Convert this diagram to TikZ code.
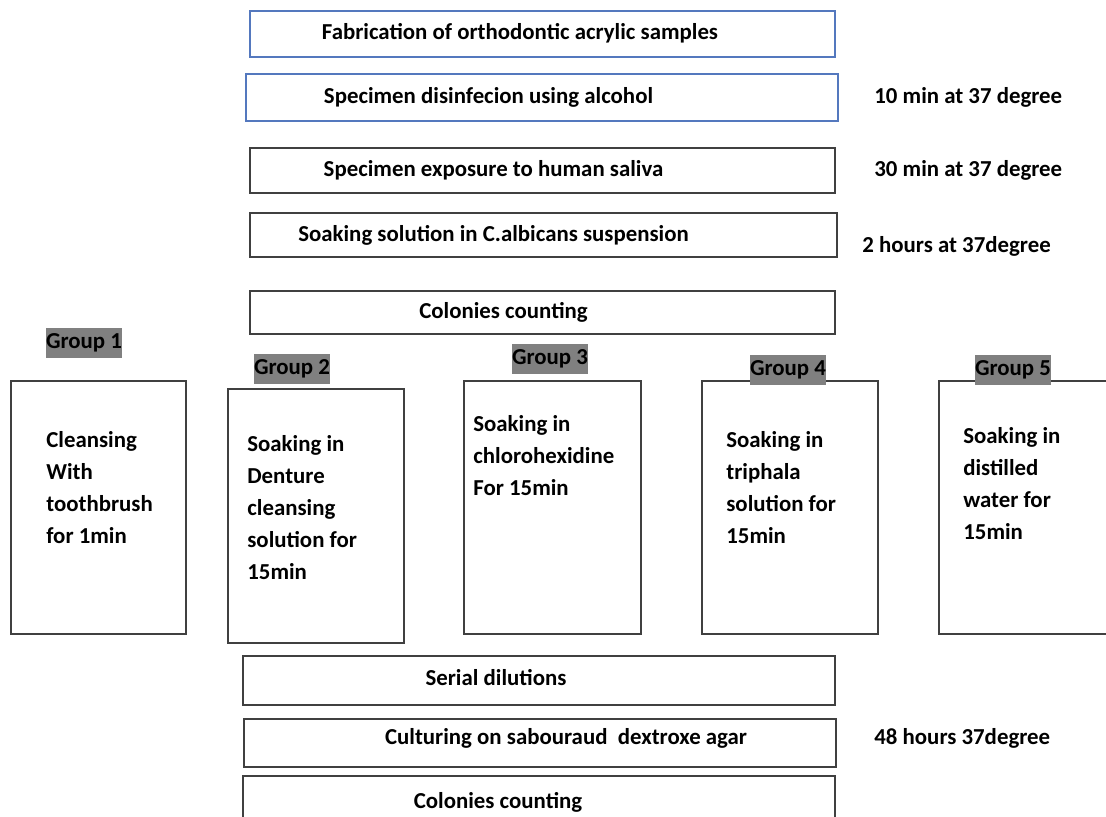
\documentclass[tikz,border=0pt]{standalone}
\usepackage{fontspec}
\setmainfont{Carlito}
\usetikzlibrary{positioning}
\definecolor{boxblue}{RGB}{84,120,190}
\definecolor{boxgray}{RGB}{64,64,64}
\definecolor{taggray}{RGB}{128,128,128}
\tikzstyle{stage}=[rectangle,draw=boxgray,line width=0.8pt,inner sep=0pt]
\tikzstyle{bluestage}=[stage,draw=boxblue]
\tikzstyle{stagetext}=[inner sep=0pt,font=\fontsize{13}{18}\selectfont\bfseries]
\tikzstyle{groupbox}=[rectangle,draw=boxgray,line width=0.8pt,inner sep=0pt,minimum height=5.06cm]
\tikzstyle{grouptag}=[fill=taggray,inner sep=0pt,minimum width=1.52cm,minimum height=0.62cm,font=\fontsize{13}{18}\selectfont\bfseries]
\tikzstyle{grouptext}=[anchor=north west,align=left,inner sep=0pt,font=\fontsize{13}{18.2}\selectfont\bfseries]
\tikzstyle{timing}=[anchor=west,inner sep=0pt,font=\fontsize{13}{18}\selectfont\bfseries]

\begin{document}
\begin{tikzpicture}[x=0.02cm,y=-0.02cm]
    \useasboundingbox (0,0) rectangle (1106,817);
    \clip (0,0) rectangle (1106,817);

    % main steps
    \node[bluestage,minimum width=11.7cm,minimum height=0.92cm] (fab) at (542.5,34) {};
    \node[stagetext] (fabtext) at (520,33) {Fabrication of orthodontic acrylic samples};
    \node[bluestage,minimum width=11.84cm,minimum height=0.94cm] (dis) at (542,97.5) {};
    \node[stagetext] (distext) at (488.5,97) {Specimen disinfecion using alcohol};
    \node[stage,minimum width=11.7cm,minimum height=0.9cm] (expo) at (542.5,170.5) {};
    \node[stagetext] (expotext) at (493.5,170) {Specimen exposure to human saliva};
    \node[stage,minimum width=11.74cm,minimum height=0.88cm] (soak) at (543.5,235) {};
    \node[stagetext] (soaktext) at (493.5,235) {Soaking solution in C.albicans suspension};
    \node[stage,minimum width=11.7cm,minimum height=0.86cm] (count) at (542.5,312.5) {};
    \node[stagetext] (counttext) at (503.5,312) {Colonies counting};

    % times
    \node[timing] (tdis) at (874,97) {10 min at 37 degree};
    \node[timing] (texpo) at (874,170) {30 min at 37 degree};
    \node[timing] (tsoak) at (862,246) {2 hours at 37degree};

    % groups
    \node[groupbox,minimum width=3.5cm] (g1) at (98.5,507.5) {};
    \node[groupbox,minimum width=3.52cm,minimum height=5.08cm] (g2) at (316,516) {};
    \node[groupbox,minimum width=3.54cm] (g3) at (552.5,507.5) {};
    \node[groupbox,minimum width=3.52cm] (g4) at (790,507.5) {};
    \node[groupbox,minimum width=3.52cm] (g5) at (1027,507.5) {};

    \node[grouptag] (tag1) at (84,343) {Group 1};
    \node[grouptag] (tag2) at (292,369) {Group 2};
    \node[grouptag] (tag3) at (550,359) {Group 3};
    \node[grouptag] (tag4) at (788,370) {Group 4};
    \node[grouptag] (tag5) at (1013,370) {Group 5};

    \node[grouptext] (txt1) at (46,431) {Cleansing\\With\\toothbrush\\for 1min};
    \node[grouptext] (txt2) at (247,435) {Soaking in\\Denture\\cleansing\\solution for\\15min};
    \node[grouptext] (txt3) at (473,415) {Soaking in\\chlorohexidine\\For 15min};
    \node[grouptext] (txt4) at (726,431) {Soaking in\\triphala\\solution for\\15min};
    \node[grouptext] (txt5) at (963,427) {Soaking in\\distilled\\water for\\15min};

    % after treatment
    \node[stage,minimum width=11.84cm,minimum height=0.98cm] (serial) at (539,680.5) {};
    \node[stagetext] (serialtext) at (496,678) {Serial dilutions};
    \node[stage,minimum width=11.84cm,minimum height=0.96cm] (culture) at (540,743) {};
    \node[stagetext] (culturetext) at (566,738) {Culturing on sabouraud\ \ dextroxe agar};
    \node[stage,minimum width=11.84cm,minimum height=1.08cm] (recount) at (539,803) {};
    \node[stagetext] (recounttext) at (498,802) {Colonies counting};
    \node[timing] (tculture) at (874,738) {48 hours 37degree};
\end{tikzpicture}
\end{document}
